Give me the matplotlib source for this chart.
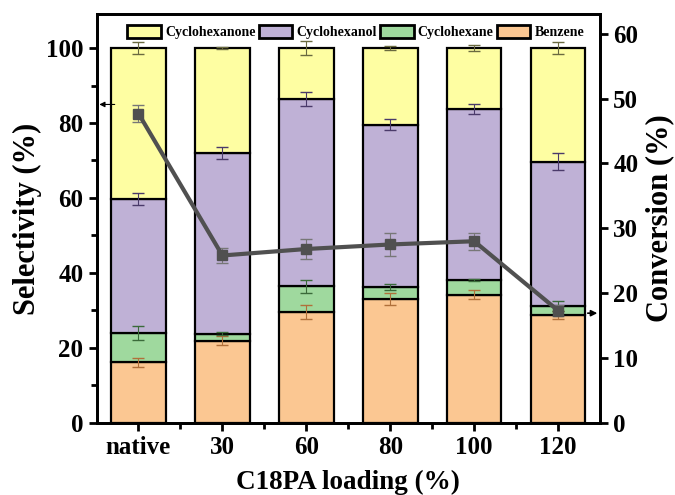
import numpy as np
import matplotlib.pyplot as plt
from matplotlib.ticker import MultipleLocator

plt.rcParams['font.family'] = ['Liberation Serif', 'DejaVu Serif']
plt.rcParams['font.weight'] = 'bold'

# data
loadings = ["native", "30", "60", "80", "100", "120"]
benzene = [16.1, 21.9, 29.6, 33.0, 34.2, 28.7]
cyclohexane = [7.9, 1.9, 6.8, 3.2, 3.9, 2.5]
cyclohexanol = [35.7, 48.2, 50.1, 43.3, 45.6, 38.5]
cyclohexanone = [40.3, 28.0, 13.5, 20.5, 16.3, 30.3]
err_benzene = [1.1, 1.2, 1.9, 1.6, 1.2, 1.0]
err_cyclohexane = [1.8, 0.3, 1.7, 0.7, 0.3, 1.3]
err_cyclohexanol = [1.7, 1.7, 1.9, 1.5, 1.3, 2.3]
err_cyclohexanone = [1.6, 0.3, 1.8, 0.6, 0.8, 1.6]
conversion = [47.7, 25.8, 26.8, 27.5, 28.0, 17.3]
err_conversion = [1.3, 1.1, 1.5, 1.8, 1.3, 0.9]

fig = plt.figure(figsize=(6.75, 4.95), dpi=100)
ax = fig.add_axes([0.143, 0.146, 0.746, 0.825])
x = np.arange(len(loadings))
w = 0.65

series = [
    ("Benzene", benzene, err_benzene, "#FBC792", "#B0703A"),
    ("Cyclohexane", cyclohexane, err_cyclohexane, "#9FD99E", "#3A6A3A"),
    ("Cyclohexanol", cyclohexanol, err_cyclohexanol, "#BFB1D6", "#4A3A6A"),
    ("Cyclohexanone", cyclohexanone, err_cyclohexanone, "#FEFEA2", "#6A6A40"),
]
bottom = np.zeros(len(x))
handles = {}
for name, vals, err, col, ecol in series:
    vals = np.array(vals)
    b = ax.bar(x, vals, w, bottom=bottom, color=col, edgecolor='black',
               linewidth=1.6, label=name, zorder=2)
    handles[name] = b
    top = bottom + vals
    ax.errorbar(x, top, yerr=err, fmt='none', ecolor=ecol, elinewidth=0.8,
                capsize=4.5, capthick=1, zorder=3)
    bottom = top

ax.set_xlim(-0.5, 5.5)
ax.set_ylim(0, 109)
ax.set_xticks(x)
ax.set_xticklabels(loadings)
ax.xaxis.set_minor_locator(plt.FixedLocator(x[:-1] + 0.5))
ax.yaxis.set_major_locator(MultipleLocator(20))
ax.yaxis.set_minor_locator(MultipleLocator(10))
ax.set_ylabel("Selectivity (%)", fontsize=22, fontweight='bold', labelpad=3)
ax.set_xlabel("C18PA loading (%)", fontsize=19.5, fontweight='bold', labelpad=8)
ax.tick_params(axis='both', which='major', labelsize=18, width=2, length=6, direction='out')
ax.tick_params(axis='both', which='minor', width=2, length=4, direction='out')
for s in ax.spines.values():
    s.set_linewidth(2)

ax2 = ax.twinx()
ax2.set_ylim(0, 63)
ax2.yaxis.set_major_locator(MultipleLocator(10))
ax2.errorbar(x, conversion, yerr=err_conversion, color='#505050', linewidth=3,
             marker='s', markersize=7, ecolor='#777777', elinewidth=0.8,
             capsize=4.5, capthick=1, zorder=5)
ax2.set_ylabel("Conversion (%)", fontsize=22, fontweight='bold', labelpad=5)
ax2.tick_params(axis='y', which='major', labelsize=18, width=2, length=6, direction='out')
for s in ax2.spines.values():
    s.set_linewidth(2)

# arrows pointing to the axes
ax2.annotate("", xy=(-0.5, 49.1), xytext=(-0.25, 49.1),
             arrowprops=dict(arrowstyle='-|>', color='black', lw=0.8,
                             mutation_scale=8))
ax2.annotate("", xy=(5.5, 16.9), xytext=(5.32, 16.9),
             arrowprops=dict(arrowstyle='-|>', color='black', lw=1.2,
                             mutation_scale=9))

order = ["Cyclohexanone", "Cyclohexanol", "Cyclohexane", "Benzene"]
leg = ax.legend([handles[n] for n in order], order, loc='upper center',
                bbox_to_anchor=(0.515, 1.0), ncol=4, frameon=False,
                fontsize=10, handlelength=2.4, handleheight=1.1,
                handletextpad=0.3, columnspacing=0.25, borderaxespad=0.35)
for p in leg.get_patches():
    p.set_linewidth(2)

fig.savefig("out.png", dpi=100)
